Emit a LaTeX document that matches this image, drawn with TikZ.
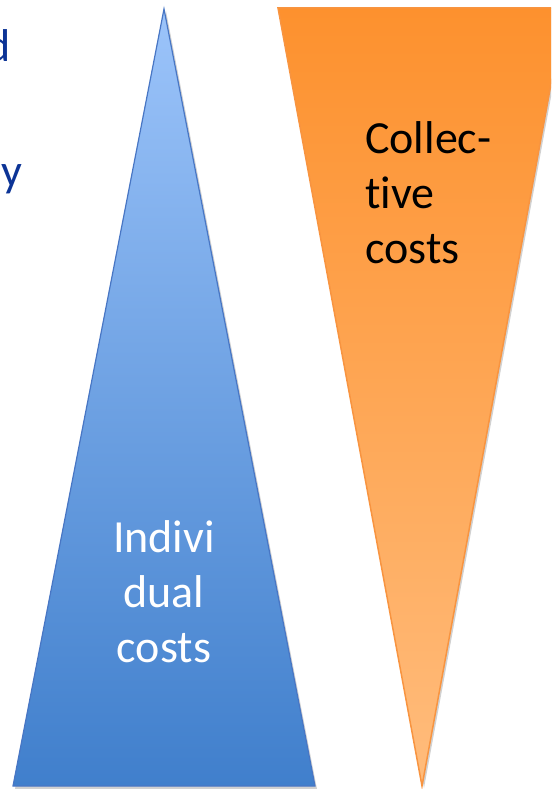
\documentclass[tikz,border=0pt]{standalone}
\usepackage{fontspec}
\setmainfont[Ligatures=NoCommon]{Carlito}

\definecolor{textblue}{RGB}{12,52,150}
\definecolor{indtop}{RGB}{156,196,250}
\definecolor{indbot}{RGB}{64,127,204}
\definecolor{indline}{RGB}{72,118,196}
\definecolor{coltop}{RGB}{253,145,46}
\definecolor{colbot}{RGB}{255,188,124}
\definecolor{colline}{RGB}{248,148,64}

\begin{document}
\begin{tikzpicture}[x=1pt,y=-1pt,
        costs/.style={font=\fontsize{46}{55}\selectfont, inner sep=0pt},
        shadow/.style={fill=black, opacity=0.18}]
        \useasboundingbox (0,0) rectangle (551,789);
        \clip (0,0) rectangle (551,789);
        % soft shadows under both wedges
        \fill[shadow] (15,789) -- (166,11) -- (317,789) -- cycle;
        \fill[shadow] (280,10) -- (567,10) -- (424,788) -- cycle;
        % individual costs grow towards the base
        \shade[top color=indtop, bottom color=indbot, draw=indline, line width=1.2]
            (13,786) -- (164,9) -- (315,786) -- cycle;
        % collective costs shrink towards the tip
        \shade[top color=coltop, bottom color=colbot, draw=colline, line width=1.5]
            (278,8) -- (565,8) -- (422,786) -- cycle;
        \node[costs, white, align=center, anchor=north] (ind) at (164,520) {Indivi\\dual\\costs};
        \node[costs, black, align=left, anchor=north west] (col) at (365,121) {Collec-\\tive\\costs};
        % ends of the cut-off words on the left
        \node[costs, textblue, anchor=base east] (wd) at (11,62) {d};
        \node[costs, textblue, anchor=base west] (wy) at (1,186) {y};
    \end{tikzpicture}
\end{document}
